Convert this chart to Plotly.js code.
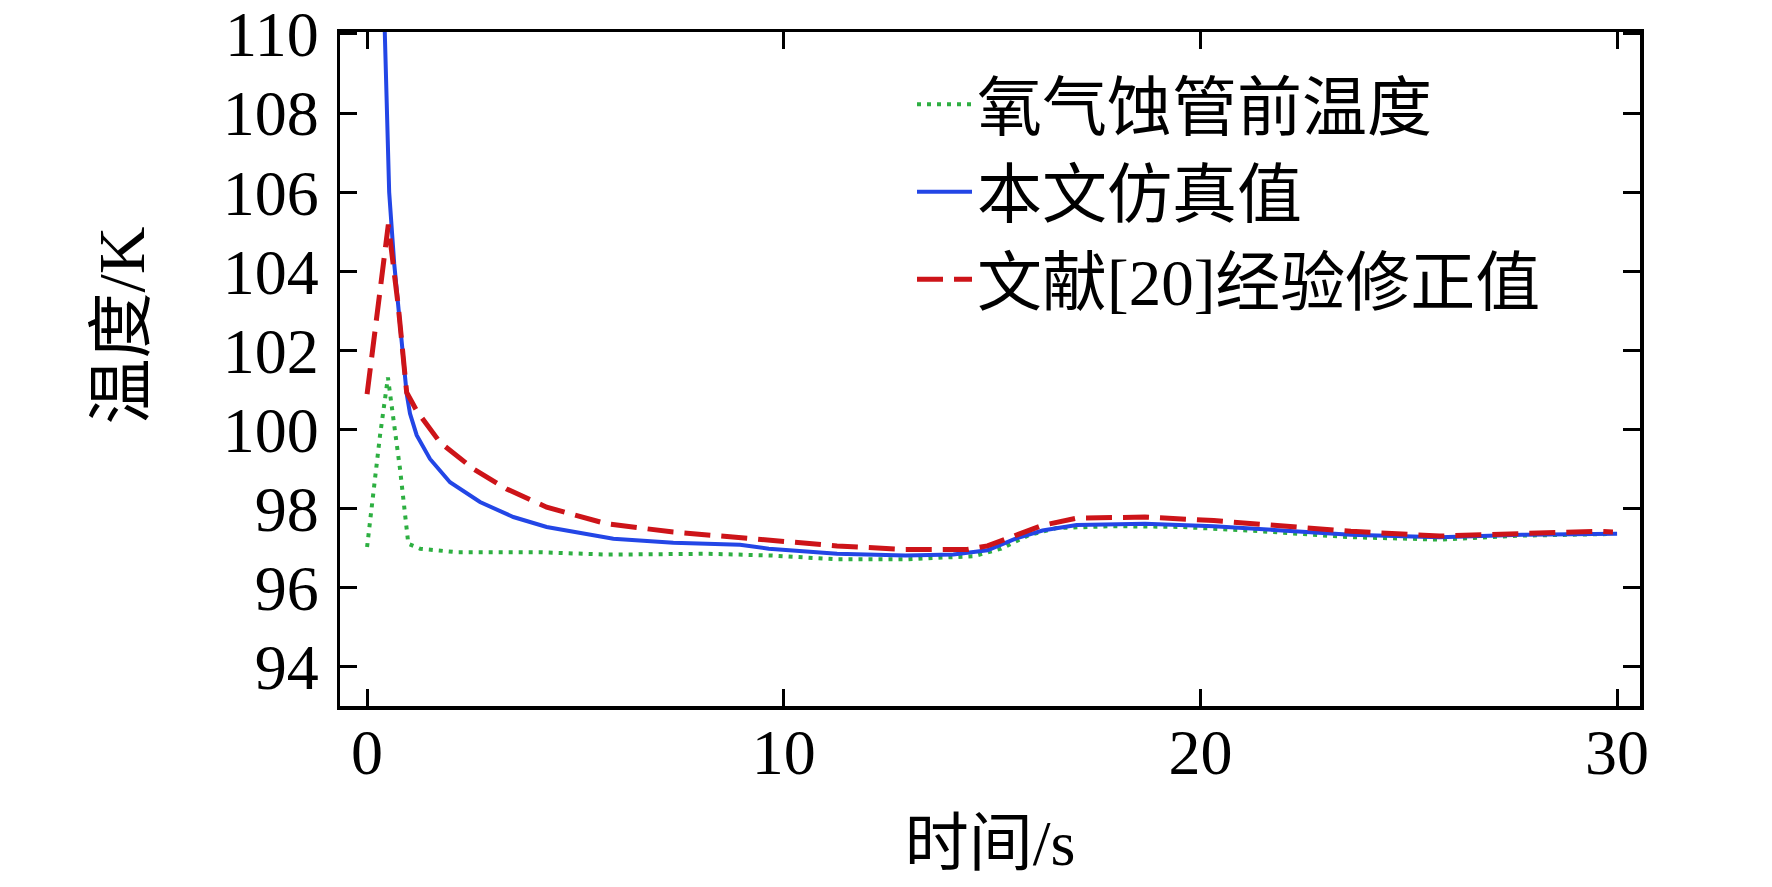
<!DOCTYPE html>
<html>
<head>
<meta charset="utf-8">
<script src="https://cdn.plot.ly/plotly-3.0.1.min.js"></script>
<style>
  html, body { margin: 0; padding: 0; background: #fff; }
  #chart { width: 1772px; height: 887px; }
</style>
</head>
<body>
<div id="chart"></div>
<script>
// 氧气蚀管前温度 (green, dotted)
var timeInlet = [0, 0.31, 0.5, 0.79, 0.99, 1.27, 2.15, 4.15, 5.75, 8.15, 9.64, 11.28, 12.92, 14.56,
  15.22, 15.88, 16.54, 17.86, 19.5, 21.15, 23.61, 25.74, 27.72, 29.8];
var tempInlet = [97.02, 99.84, 101.31, 99.0, 97.1, 96.98, 96.89, 96.89, 96.83, 96.85, 96.81, 96.71, 96.71, 96.79,
  96.98, 97.32, 97.5, 97.55, 97.53, 97.44, 97.27, 97.21, 97.31, 97.35];

// 本文仿真值 (blue, solid)
var timeSim = [0.40, 0.43, 0.47, 0.53, 0.65, 0.76, 0.86, 0.95, 1.03, 1.19, 1.51, 1.99, 2.71, 3.51, 4.31,
  5.91, 7.35, 8.95, 9.64, 11.28, 12.92, 14.07, 14.89, 15.55, 16.21, 17.03, 18.67, 20.32, 21.96,
  23.61, 25.74, 27.72, 30.0];
var tempSim = [111.0, 110.0, 108.0, 106.0, 104.2, 102.9, 101.8, 100.9, 100.4, 99.85, 99.25, 98.66, 98.16, 97.78, 97.53,
  97.23, 97.13, 97.08, 96.98, 96.85, 96.81, 96.83, 96.94, 97.23, 97.44, 97.58, 97.61, 97.55, 97.44,
  97.33, 97.27, 97.33, 97.36];

// 文献[20]经验修正值 (red, dashed)
var timeRef = [0, 0.51, 0.75, 0.95, 1.19, 1.75, 2.55, 3.35, 4.31, 5.75, 7.35, 8.87, 9.64, 11.28, 12.92,
  14.4, 14.89, 15.55, 16.21, 17.03, 18.67, 20.32, 21.96, 23.61, 25.74, 27.72, 29.5, 29.9];
var tempRef = [100.89, 105.18, 103.1, 100.93, 100.47, 99.67, 99.0, 98.49, 98.03, 97.61, 97.40, 97.27, 97.21, 97.05, 96.96,
  96.96, 97.05, 97.32, 97.57, 97.75, 97.78, 97.69, 97.57, 97.42, 97.30, 97.36, 97.42, 97.40];

var names = ['氧气蚀管前温度', '本文仿真值', '文献[20]经验修正值'];
var xTicks = [0, 10, 20, 30];
var yTicks = [94, 96, 98, 100, 102, 104, 106, 108, 110];

var serif = 'Liberation Serif, Noto Sans CJK SC, serif';

var data = [
  {
    x: timeInlet, y: tempInlet, name: names[0],
    type: 'scatter', mode: 'lines',
    line: { color: 'rgb(45,175,65)', width: 4, dash: '4px,6px' }
  },
  {
    x: timeSim, y: tempSim, name: names[1],
    type: 'scatter', mode: 'lines',
    line: { color: 'rgb(35,70,230)', width: 4 }
  },
  {
    x: timeRef, y: tempRef, name: names[2],
    type: 'scatter', mode: 'lines',
    line: { color: 'rgb(205,20,25)', width: 5, dash: '26px,11px' }
  }
];

var layout = {
  width: 1772,
  height: 887,
  paper_bgcolor: '#fff',
  plot_bgcolor: '#fff',
  margin: { l: 340, r: 132, t: 32, b: 181, autoexpand: false },
  showlegend: true,
  legend: {
    x: 0.44, y: 0.965,
    xanchor: 'left', yanchor: 'top',
    bgcolor: 'rgba(0,0,0,0)',
    itemwidth: 55,
    font: { family: serif, size: 65, color: '#000' }
  },
  xaxis: {
    range: [-0.65, 30.55],
    tickmode: 'array',
    tickvals: xTicks,
    ticks: 'inside',
    ticklen: 17,
    tickwidth: 3,
    tickcolor: '#000',
    showline: true,
    linecolor: '#000',
    linewidth: 3.5,
    mirror: 'ticks',
    showgrid: false,
    zeroline: false,
    ticklabelstandoff: -12,
    ticklabeloverflow: 'allow',
    tickfont: { family: serif, size: 64, color: '#000' },
    title: { text: '时间/s', standoff: 34, font: { family: serif, size: 64, color: '#000' } }
  },
  yaxis: {
    range: [93, 110.05],
    tickmode: 'array',
    tickvals: yTicks,
    ticks: 'inside',
    ticklen: 17,
    tickwidth: 3,
    tickcolor: '#000',
    showline: true,
    linecolor: '#000',
    linewidth: 3.5,
    mirror: 'ticks',
    showgrid: false,
    zeroline: false,
    ticklabelstandoff: 5,
    ticklabeloverflow: 'allow',
    tickfont: { family: serif, size: 64, color: '#000' }
  },
  annotations: [
    {
      // y title sits a bit above the axis middle in the original
      xref: 'paper', yref: 'paper',
      x: -0.168, y: 0.564,
      xanchor: 'center', yanchor: 'middle',
      textangle: -90,
      text: '温度/K',
      showarrow: false,
      font: { family: serif, size: 66, color: '#000' }
    }
  ]
};

Plotly.newPlot('chart', data, layout, { displayModeBar: false, staticPlot: true });
</script>
</body>
</html>
